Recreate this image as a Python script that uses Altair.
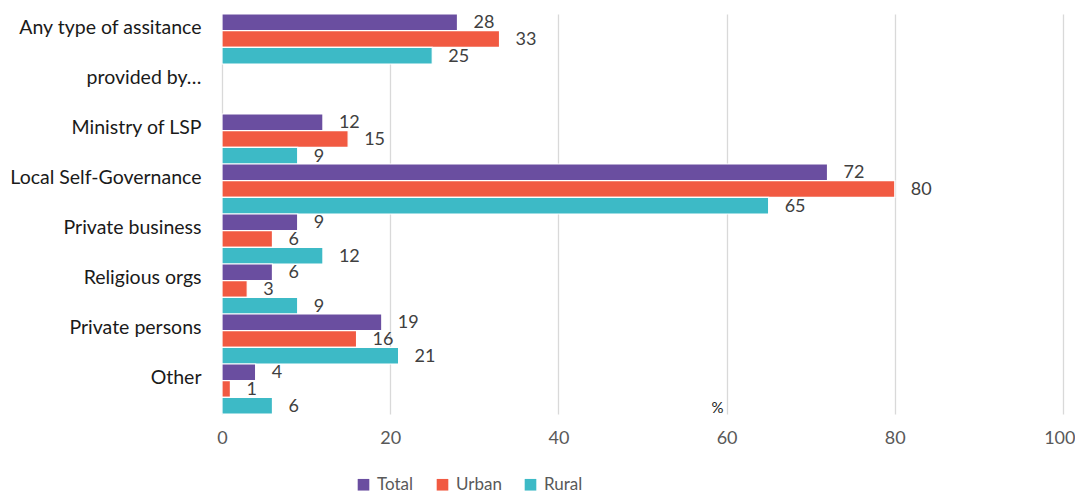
import altair as alt
import pandas as pd

categories = ["Any type of assitance", "provided by…", "Ministry of LSP", "Local Self-Governance",
              "Private business", "Religious orgs", "Private persons", "Other"]
data_categories = ["Any type of assitance", "Ministry of LSP", "Local Self-Governance",
                   "Private business", "Religious orgs", "Private persons", "Other"]
series = ["Total", "Urban", "Rural"]
total = [28, 12, 72, 9, 6, 19, 4]
urban = [33, 15, 80, 6, 3, 16, 1]
rural = [25, 9, 65, 12, 9, 21, 6]
x_ticks = [0, 20, 40, 60, 80, 100]
colors = ["#6A4EA0", "#F15A42", "#3DBAC6"]

rows = []
for i, c in enumerate(data_categories):
    for s, vals in zip(series, [total, urban, rural]):
        rows.append({"category": c, "series": s, "value": vals[i]})
df = pd.DataFrame(rows)

FONT = "Lato"

y_enc = alt.Y("category:N", sort=categories,
              scale=alt.Scale(domain=categories, paddingInner=0, paddingOuter=0),
              axis=alt.Axis(title=None, ticks=False, domain=False, labelFont=FONT,
                            labelFontSize=19.5, labelColor="#1a1a1a", labelPadding=21,
                            labelOffset=-11, labelLimit=300))
x_enc = alt.X("value:Q", scale=alt.Scale(domain=[0, 100], nice=False),
              axis=alt.Axis(title="%", values=x_ticks, ticks=False,
                            domain=False, grid=True, gridColor="#d9d9d9", gridWidth=1.3,
                            labelFont=FONT, labelFontSize=18, labelColor="#595959",
                            labelFlush=False, labelPadding=15,
                            labelAlign={"condition": {"test": "datum.value === 100", "value": "right"},
                                        "value": "center"},
                            labelOffset={"condition": {"test": "datum.value === 100", "value": 12},
                                         "value": 0},
                            titleFont=FONT,
                            titleFontSize=15, titleFontWeight="normal", titleColor="#1a1a1a",
                            titleX=495, titleY=-14))
yoff = alt.YOffset("series:N", sort=series, scale=alt.Scale(domain=series, paddingInner=0, paddingOuter=0))
color = alt.Color("series:N", sort=series,
                  scale=alt.Scale(domain=series, range=colors),
                  legend=alt.Legend(title=None, orient="none", direction="horizontal",
                                    legendX=133, legendY=462, symbolType="square",
                                    symbolSize=135, symbolStrokeWidth=0, symbolOpacity=1,
                                    labelFont=FONT, labelFontSize=17, labelColor="#595959",
                                    columnPadding=20, labelOffset=5))

bars = alt.Chart(df).mark_bar(stroke="white", strokeWidth=1.2, opacity=1).encode(
    x=x_enc, y=y_enc, yOffset=yoff, color=color)

labels = alt.Chart(df).mark_text(align="left", baseline="middle", dx=16, dy=1,
                                 font=FONT, fontSize=18, color="#404040").encode(
    x="value:Q", y=alt.Y("category:N", sort=categories), yOffset=yoff, text="value:Q")

chart = alt.layer(bars, labels).properties(
    width=841, height=400, autosize=alt.AutoSizeParams(type="none"),
    padding={"left": 214, "top": 6, "right": 12, "bottom": 80}
).configure_view(stroke=None)

chart.save("out.html", embed_options={"renderer": "svg", "actions": False})
